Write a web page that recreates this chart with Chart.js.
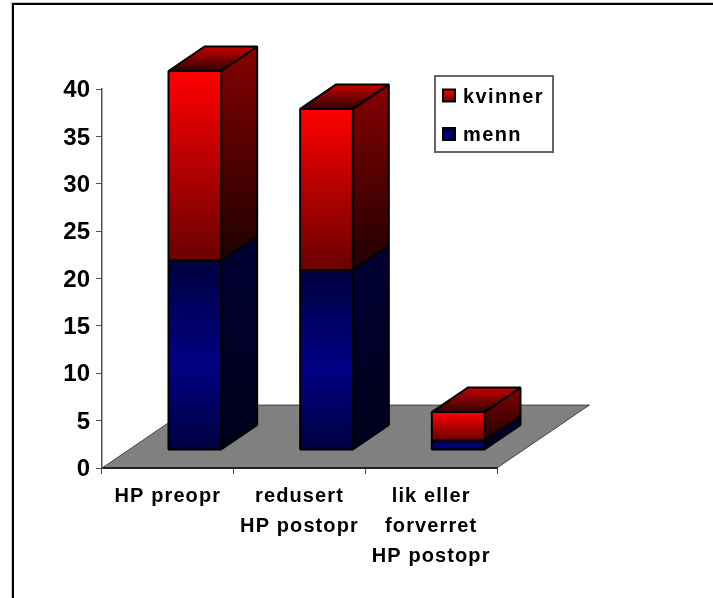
<!DOCTYPE html>
<html>
<head>
<meta charset="utf-8">
<style>
  html, body { margin: 0; padding: 0; background: #ffffff; overflow: hidden; }
  #wrap { position: relative; width: 713px; height: 598px; }
</style>
</head>
<body>
<div id="wrap"><canvas id="chart" width="713" height="598"></canvas></div>
<script src="https://cdn.jsdelivr.net/npm/chart.js@4"></script>
<script>
const categories = [["HP preopr"], ["redusert", "HP postopr"], ["lik eller", "forverret", "HP postopr"]];
const menn = [20, 19, 1];
const kvinner = [20, 17, 3];
const yTicks = [0, 5, 10, 15, 20, 25, 30, 35, 40];
const seriesNames = ["menn", "kvinner"];

const fontFamily = "'Liberation Sans', Arial, sans-serif";
// how far the bars sit into the floor, and how deep they and the floor are
const barShift = { x: 27, y: -18 };
const barDepth = { x: 36, y: -24.5 };
const floorDepth = { x: 92.5, y: -63 };

const palettes = [
  {
    front: [[0, "#000040"], [0.55, "#000084"], [1, "#000040"]],
    side: [[0, "#000034"], [1, "#00001c"]],
    top: [[0, "#000090"], [1, "#000030"]]
  },
  {
    front: [[0, "#ff0000"], [1, "#6a0000"]],
    side: [[0, "#860000"], [1, "#200000"]],
    top: [[0, "#c80000"], [1, "#300000"]]
  }
];

function fade(ctx, y0, y1, stops) {
  const gradient = ctx.createLinearGradient(0, y0, 0, y1);
  stops.forEach(([at, color]) => gradient.addColorStop(at, color));
  return gradient;
}

function face(ctx, points, fill) {
  ctx.beginPath();
  points.forEach(([x, y], i) => (i ? ctx.lineTo(x, y) : ctx.moveTo(x, y)));
  ctx.closePath();
  ctx.fillStyle = fill;
  ctx.fill();
  ctx.lineWidth = 2;
  ctx.lineJoin = "bevel";
  ctx.strokeStyle = "#000000";
  ctx.stroke();
}

const box3d = {
  id: "box3d",
  beforeDraw(chart) {
    const { ctx, chartArea: a } = chart;
    // sheet edge, top and left only
    ctx.save();
    ctx.fillStyle = "#c8c8c8";
    ctx.fillRect(11, 2, 702, 1);
    ctx.fillRect(11, 2, 1, 596);
    ctx.fillStyle = "#000000";
    ctx.fillRect(12, 3, 701, 2);
    ctx.fillRect(12, 3, 2, 595);
    // floor
    ctx.beginPath();
    ctx.moveTo(a.left, a.bottom);
    ctx.lineTo(a.right, a.bottom);
    ctx.lineTo(a.right + floorDepth.x, a.bottom + floorDepth.y);
    ctx.lineTo(a.left + floorDepth.x, a.bottom + floorDepth.y);
    ctx.closePath();
    ctx.fillStyle = "#808080";
    ctx.fill();
    ctx.lineWidth = 1;
    ctx.strokeStyle = "rgba(0, 0, 0, 0.6)";
    ctx.stroke();
    ctx.restore();

    const xScale = chart.scales.x;
    if (!xScale.spaced) {
      const drawLabels = xScale.drawLabels;
      xScale.drawLabels = function (area) {
        ctx.save();
        ctx.letterSpacing = "1.1px";
        drawLabels.call(this, area);
        ctx.restore();
      };
      xScale.spaced = true;
    }
  },
  afterDatasetsDraw(chart) {
    const { ctx } = chart;
    ctx.save();
    for (let i = 0; i < categories.length; i++) {
      chart.data.datasets.forEach((dataset, d) => {
        const bar = chart.getDatasetMeta(d).data[i];
        const paint = palettes[d];
        const half = bar.width / 2;
        const left = bar.x - half + barShift.x;
        const right = bar.x + half + barShift.x;
        const top = bar.y + barShift.y;
        const bottom = bar.base + barShift.y;
        const dx = barDepth.x;
        const dy = barDepth.y;
        face(ctx, [[right, top], [right + dx, top + dy], [right + dx, bottom + dy], [right, bottom]],
          fade(ctx, top + dy, bottom, paint.side));
        face(ctx, [[left, top], [left + dx, top + dy], [right + dx, top + dy], [right, top]],
          fade(ctx, top + dy, top, paint.top));
        face(ctx, [[left, top], [right, top], [right, bottom], [left, bottom]],
          fade(ctx, top, bottom, paint.front));
      });
    }
    ctx.restore();
  },
  afterDraw(chart) {
    const { ctx } = chart;
    ctx.save();
    ctx.strokeStyle = "#666666";
    ctx.lineWidth = 2;
    ctx.fillStyle = "#ffffff";
    ctx.fillRect(435, 76, 118, 76);
    ctx.strokeRect(435, 76, 118, 76);
    // kvinner on top, menn below, as in the original key
    [[1, 89], [0, 127.5]].forEach(([d, y]) => {
      ctx.fillStyle = fade(ctx, y, y + 13, palettes[d].front);
      ctx.fillRect(443, y + 0.5, 12, 12);
      ctx.strokeStyle = "#000000";
      ctx.strokeRect(443, y + 0.5, 12, 12);
      ctx.fillStyle = "#000000";
      ctx.font = "bold 20px " + fontFamily;
      ctx.letterSpacing = "1.4px";
      ctx.textBaseline = "middle";
      ctx.textAlign = "left";
      ctx.fillText(seriesNames[d], 463, y + 8);
    });
    ctx.restore();
  }
};

new Chart(document.getElementById("chart"), {
  type: "bar",
  data: {
    labels: categories,
    datasets: [
      { label: seriesNames[0], data: menn, backgroundColor: "transparent" },
      { label: seriesNames[1], data: kvinner, backgroundColor: "transparent" }
    ]
  },
  options: {
    responsive: false,
    animation: false,
    layout: { padding: { left: 20, top: 89, right: 216, bottom: 0 } },
    datasets: { bar: { categoryPercentage: 0.4, barPercentage: 1 } },
    plugins: {
      legend: { display: false },
      tooltip: { enabled: false }
    },
    scales: {
      x: {
        stacked: true,
        afterFit(scale) {
          scale.height = 130;
        },
        grid: { drawOnChartArea: false, color: "#444444", tickLength: 6, lineWidth: 1 },
        border: { color: "#222222", width: 2 },
        ticks: {
          color: "#000000",
          maxRotation: 0,
          autoSkip: false,
          padding: 7,
          font: { family: fontFamily, size: 20, weight: "bold", lineHeight: 1.5 }
        }
      },
      y: {
        stacked: true,
        min: 0,
        max: 40,
        afterFit(scale) {
          scale.width = 82;
        },
        afterBuildTicks(scale) {
          scale.ticks = yTicks.map((value) => ({ value }));
        },
        grid: { drawOnChartArea: false, color: "#555555", tickLength: 6, lineWidth: 1 },
        border: { color: "#555555", width: 1.5 },
        ticks: {
          color: "#000000",
          padding: 6,
          labelOffset: 1.5,
          font: { family: fontFamily, size: 24, weight: "bold" }
        }
      }
    }
  },
  plugins: [box3d]
});
</script>
</body>
</html>
